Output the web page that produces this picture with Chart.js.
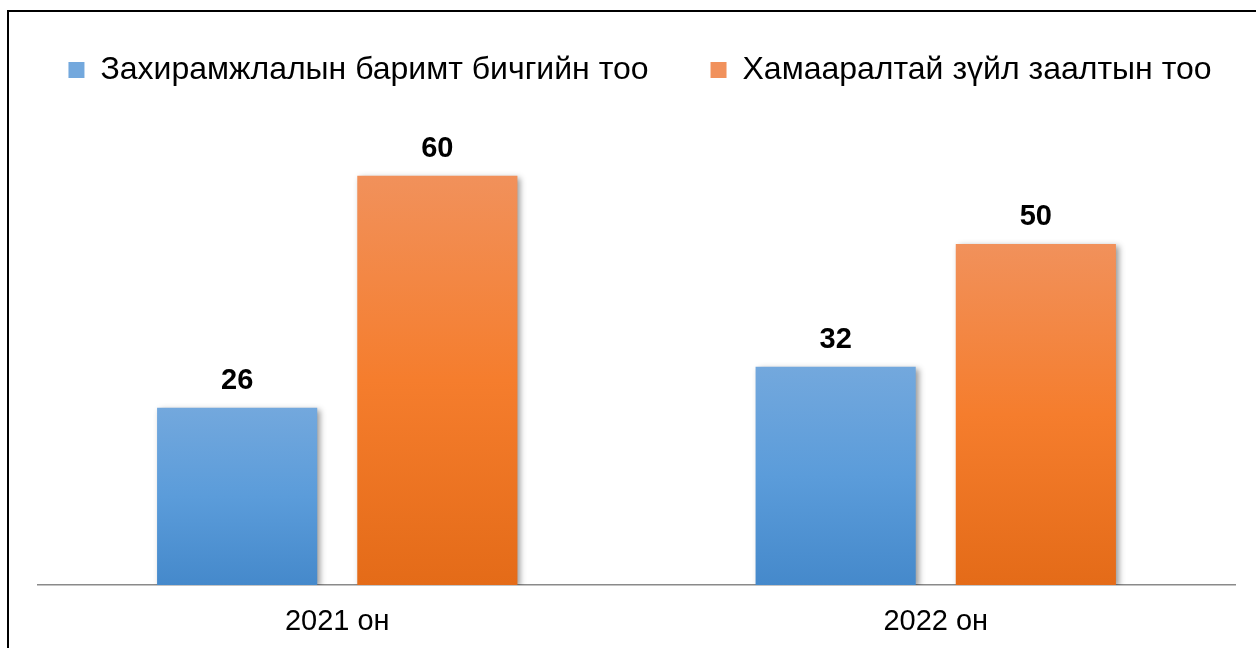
<!DOCTYPE html>
<html>
<head>
<meta charset="utf-8">
<script src="https://cdn.jsdelivr.net/npm/chart.js@4.4.0/dist/chart.umd.min.js"></script>
<style>
  html,body{margin:0;padding:0;background:#fff;overflow:hidden;}
  #wrap{position:relative;width:1256px;height:648px;}
  #frame{position:absolute;left:7px;top:10px;width:1300px;height:700px;border-left:2px solid #000;border-top:2px solid #000;pointer-events:none;}
  canvas{position:absolute;left:0;top:0;}
</style>
</head>
<body>
<div id="wrap">
  <canvas id="c" width="1256" height="648"></canvas>
  <div id="frame"></div>
</div>
<script>
const categories = ['2021 он', '2022 он'];
const seriesNames = ['Захирамжлалын баримт бичгийн тоо', 'Хамааралтай зүйл заалтын тоо'];
const ordersCount = [26, 32];
const clausesCount = [60, 50];

const palettes = [
  {top:'#73A8DD', mid:'#5B9CDA', bot:'#4589CB'},
  {top:'#F1915B', mid:'#F57D2D', bot:'#E46B18'}
];

function barFill(idx){
  return function(c){
    const p = palettes[idx];
    if (c.type !== 'data' || !c.chart.chartArea) return p.mid;
    const ys = c.chart.scales.y;
    const top = ys.getPixelForValue(c.raw);
    const bot = ys.getPixelForValue(0);
    const g = c.chart.ctx.createLinearGradient(0, top, 0, bot);
    g.addColorStop(0, p.top);
    g.addColorStop(0.5, p.mid);
    g.addColorStop(1, p.bot);
    return g;
  };
}

const shadowPlugin = {
  id: 'barShadow',
  beforeDatasetsDraw(chart){
    const ctx = chart.ctx;
    ctx.save();
    ctx.shadowColor = 'rgba(0,0,0,0.40)';
    ctx.shadowBlur = 6;
    ctx.shadowOffsetX = 3;
    ctx.shadowOffsetY = 2;
  },
  afterDatasetsDraw(chart){
    chart.ctx.restore();
  }
};

const valueLabels = {
  id: 'valueLabels',
  afterDatasetsDraw(chart){
    const ctx = chart.ctx;
    ctx.save();
    ctx.font = 'bold 29px "Liberation Sans", Arial, sans-serif';
    ctx.fillStyle = '#000';
    ctx.textAlign = 'center';
    ctx.textBaseline = 'middle';
    chart.data.datasets.forEach((ds, di) => {
      const meta = chart.getDatasetMeta(di);
      meta.data.forEach((bar, i) => {
        ctx.fillText(String(ds.data[i]), bar.x, bar.y - 27);
      });
    });
    ctx.restore();
  }
};

new Chart(document.getElementById('c'), {
  type: 'bar',
  data: {
    labels: categories,
    datasets: [
      {label: seriesNames[0], data: ordersCount, backgroundColor: barFill(0), borderWidth: 0, barPercentage: 0.8, categoryPercentage: 0.669},
      {label: seriesNames[1], data: clausesCount, backgroundColor: barFill(1), borderWidth: 0, barPercentage: 0.8, categoryPercentage: 0.669}
    ]
  },
  options: {
    responsive: false,
    animation: false,
    layout: {padding: {left: 4, right: -20, top: -8, bottom: 0}},
    plugins: {
      legend: {
        position: 'top',
        labels: {
          font: {family: '"Liberation Sans", Arial, sans-serif', size: 32},
          color: '#000',
          boxWidth: 16,
          boxHeight: 16,
          padding: 62
        }
      },
      tooltip: {enabled: false}
    },
    scales: {
      x: {
        grid: {display: false, drawTicks: false},
        border: {display: true, color: '#8a8a8a', width: 1.5},
        ticks: {font: {family: '"Liberation Sans", Arial, sans-serif', size: 29}, color: '#000', padding: 20},
        afterFit(s){ s.height = 63; }
      },
      y: {
        min: 0, max: 71.7,
        grid: {display: false, drawTicks: false},
        border: {display: false},
        ticks: {display: false},
        afterFit(s){ s.width = 34; }
      },
      y2: {
        position: 'right',
        min: 0, max: 71.7,
        grid: {display: false, drawTicks: false},
        border: {display: false},
        ticks: {display: false},
        afterFit(s){ s.width = 41; }
      }
    }
  },
  plugins: [shadowPlugin, valueLabels]
});
</script>
</body>
</html>
